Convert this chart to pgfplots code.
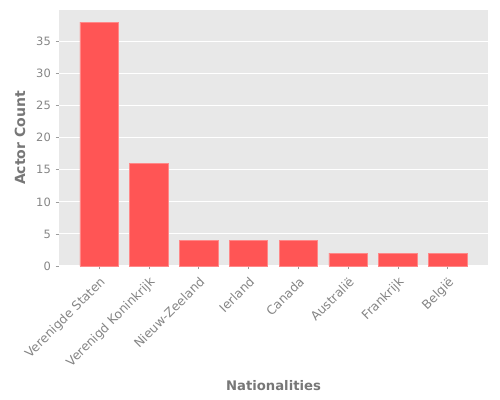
\documentclass[border=0pt]{standalone}
\usepackage{fontspec}
\setmainfont{DejaVu Sans}
\usepackage{pgfplots}
\pgfplotsset{compat=1.18}
\definecolor{barred}{HTML}{FF5555}
\definecolor{bgray}{HTML}{E8E8E8}
\definecolor{tgray}{HTML}{858585}
\definecolor{lgray}{HTML}{777777}
\begin{document}
\begin{tikzpicture}
\useasboundingbox (0,0) rectangle (375pt,300pt);
\begin{axis}[
 at={(44.25pt,100.5pt)}, anchor=south west,
 scale only axis, width=321.75pt, height=192pt,
 xmin=-0.805, xmax=7.81, ymin=0, ymax=39.9,
 axis background/.style={fill=bgray},
 axis line style={draw=none},
 ymajorgrids, grid style={white, line width=0.8pt},
 xtick={0,...,7},
 xticklabels={Verenigde Staten, Verenigd Koninkrijk, Nieuw-Zeeland, Ierland, Canada, Australië, Frankrijk, België},
 ytick={0,5,...,35},
 tick align=outside, xtick pos=bottom, ytick pos=left,
 major tick length=2.6pt,
 tick style={tgray!80, line width=0.5pt},
 ticklabel style={text=tgray},
 yticklabel style={font=\fontsize{8.6}{10}\selectfont},
 xticklabel style={font=\fontsize{9.3}{10}\selectfont, rotate=45, anchor=north east},
 /pgf/number format/assume math mode=true,
 xlabel={Nationalities}, ylabel={Actor Count},
 label style={font=\fontsize{9.9}{11}\selectfont\bfseries, text=lgray},
 xlabel style={at={(axis description cs:0.5,-0.469)}, anchor=center},
 ylabel style={font=\fontsize{10.5}{12}\selectfont\bfseries, at={(axis description cs:-0.091,0.5)}, anchor=center},
]
\addplot[ybar, bar width=0.77, fill=barred, draw=barred!70!white, line width=0.4pt] coordinates {(0,38) (1,16) (2,4) (3,4) (4,4) (5,2) (6,2) (7,2)};
\end{axis}
\end{tikzpicture}
\end{document}
